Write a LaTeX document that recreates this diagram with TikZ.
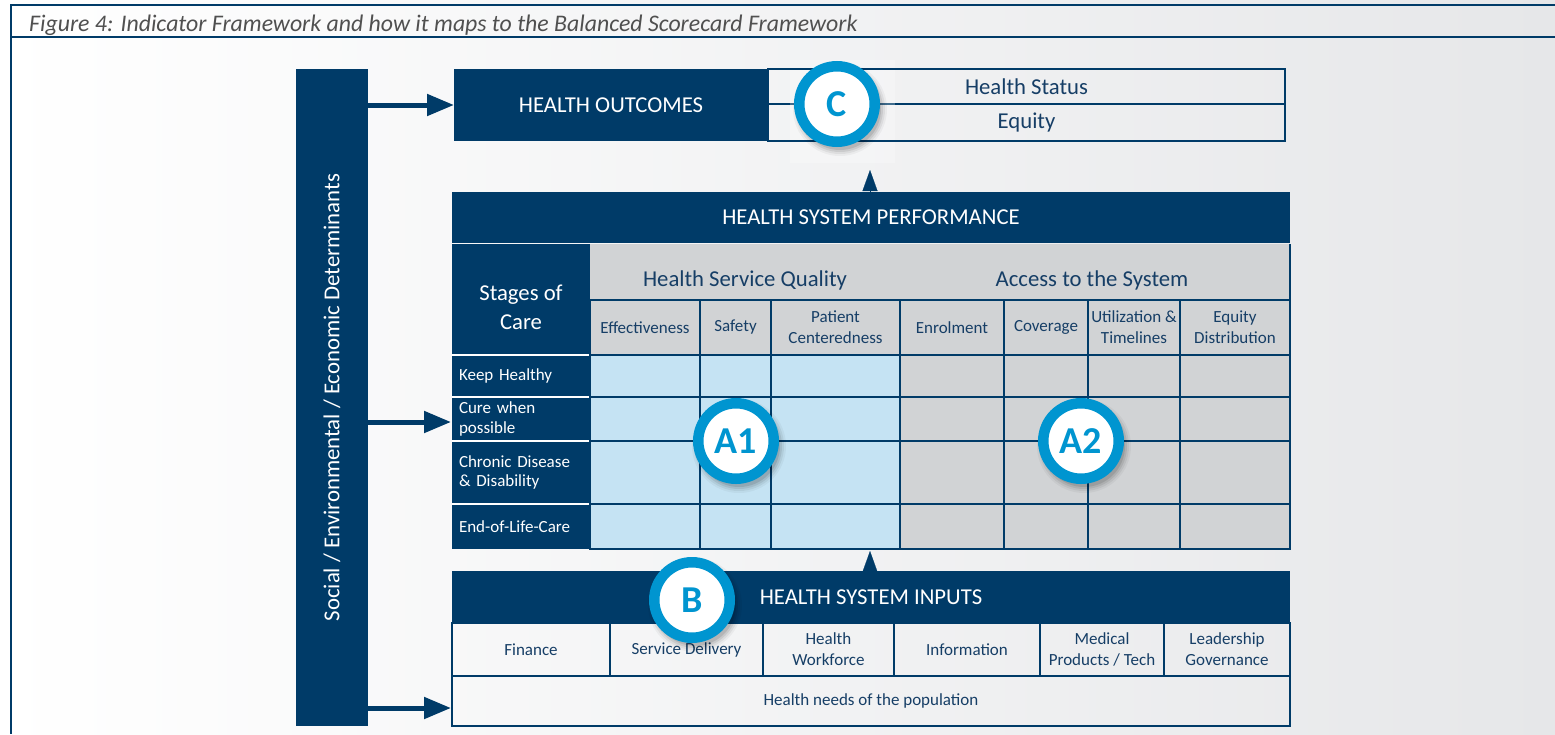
\documentclass[tikz,border=0pt]{standalone}
\usepackage{fontspec}
\setmainfont{Carlito}
\usetikzlibrary{arrows.meta,calc}
\definecolor{navy}{RGB}{0,59,104}
\definecolor{navytext}{RGB}{22,62,102}
\definecolor{lblue}{RGB}{197,227,243}
\definecolor{lgray}{RGB}{209,211,213}
\definecolor{cblue}{RGB}{0,149,208}
\definecolor{bgr}{RGB}{230,231,233}
\definecolor{capgray}{RGB}{80,80,80}
\newcommand\fsz[2]{\fontsize{#1}{#2}\selectfont}
% name, x1, y1, x2, y2, style, text
\newcommand\bx[7]{\node[#6, minimum width={#4pt-#2pt}, minimum height={#5pt-#3pt}] (#1) at ({(#2+#4)/2},{(#3+#5)/2}) {#7};}
\newcommand\badgeat[4]{%
  \foreach \r/\o in {47/0.04,45/0.06,43/0.08,41/0.1}{\fill[black,opacity=\o] ({#2+3},{#3+5}) circle[radius=\r pt];}
  \node[badge] (#1) at (#2,#3) {#4};}
\begin{document}
\begin{tikzpicture}[x=1pt,y=-1pt,
  plainbox/.style={rectangle, inner sep=0pt, outer sep=0pt},
  darkbox/.style={plainbox, fill=navy, text=white},
  bigtext/.style={font=\fsz{22.7}{29}},
  smalltext/.style={font=\fsz{17}{21}},
  gridcell/.style={plainbox, draw=navy, line width=1.3pt, text=navytext, align=center},
  qcell/.style={gridcell, fill=lblue},
  acell/.style={gridcell, fill=lgray},
  icell/.style={gridcell, smalltext},
  stagebox/.style={darkbox, font=\fsz{17}{19.5}, text width=124pt, inner xsep=7pt, align=left},
  bigarrow/.style={navy, line width=5pt, -{Triangle[length=27pt,width=21pt]}},
  smallhead/.style={navy, line width=0.2pt, -{Triangle[length=21pt,width=15pt]}},
  badge/.style={circle, fill=white, draw=cblue, line width=10.5pt, minimum size=75.5pt, inner sep=0pt, text=cblue, font=\fsz{38}{38}\bfseries},
]
\useasboundingbox (0,0) rectangle (1555,734);
\shade[left color=white, right color=bgr] (0,0) rectangle (1555,734);
\draw[navy, line width=1.2pt] (1555,5) -- (11,5) -- (11,734);
\draw[navy, line width=1.2pt] (11,37) -- (1555,37);
\node[anchor=base west, text=capgray, font=\fsz{23.8}{26}\itshape, inner sep=0pt] (cap) at (29,31) {Figure 4: Indicator Framework and how it maps to the Balanced Scorecard Framework};

% determinants bar
\bx{det}{296}{69}{368}{726}{darkbox}{}
\node[rotate=90, text=white, font=\fsz{22.8}{26}] (dettext) at (det.center) {Social / Environmental / Economic Determinants};

% outcomes
\bx{ho}{454}{69}{768}{141}{darkbox, bigtext}{HEALTH OUTCOMES}
\bx{hs}{768}{69}{1285}{104}{gridcell, bigtext}{Health Status}
\bx{eq}{768}{104}{1285}{141}{gridcell, bigtext}{Equity}
\fill[white, opacity=0.25] (790,60) rectangle (895,163);
\draw[navy, line width=2.6pt] (790,69) -- (895,69) (790,141) -- (895,141);

% performance
\bx{hsp}{452}{192}{1290}{243}{darkbox, bigtext}{HEALTH SYSTEM PERFORMANCE}
\bx{soc}{452}{244}{590}{355}{darkbox}{}
\node[text=white, bigtext, align=center] (soctext) at (521,307) {Stages of\\Care};
\bx{qhdr}{590}{244}{900}{300}{plainbox, fill=lgray}{}
\bx{ahdr}{900}{244}{1290}{300}{plainbox, fill=lgray}{}
\node[text=navytext, bigtext] (qtext) at (745,280) {Health Service Quality};
\node[text=navytext, bigtext] (atext) at (1092,280) {Access to the System};
\draw[navy, line width=1.3pt] (ahdr.north east) -- (ahdr.south east);

\bx{eff}{590}{300}{700}{355}{acell, smalltext}{Effectiveness}
\bx{saf}{700}{300}{771}{355}{acell, smalltext}{Safety}
\bx{pat}{771}{300}{900}{355}{acell, smalltext}{Patient\\Centeredness}
\bx{enr}{900}{300}{1004}{355}{acell, smalltext}{Enrolment}
\bx{cov}{1004}{300}{1088}{355}{acell, smalltext}{Coverage}
\bx{uti}{1088}{300}{1180}{355}{acell, smalltext}{Utilization \&\\Timelines}
\bx{eqd}{1180}{300}{1290}{355}{acell, smalltext}{Equity\\Distribution}

% stage rows
\bx{kh}{452}{355}{590}{397}{stagebox}{Keep Healthy}
\bx{cw}{452}{397}{590}{441}{stagebox}{Cure when\\possible}
\bx{cd}{452}{441}{590}{504}{stagebox}{Chronic Disease\\\& Disability}
\bx{el}{452}{504}{590}{549}{stagebox}{End-of-Life-Care}
\draw[white, line width=1.5pt] (soc.south west) -- (soc.south east)
  (kh.south west) -- (kh.south east) (cw.south west) -- (cw.south east) (cd.south west) -- (cd.south east);

\foreach \ya/\yb/\rn in {355/397/1,397/441/2,441/504/3,504/549/4}{
  \foreach \xa/\xb/\cn in {590/700/1,700/771/2,771/900/3}{
    \bx{q\rn\cn}{\xa}{\ya}{\xb}{\yb}{qcell}{}
  }
  \foreach \xa/\xb/\cn in {900/1004/1,1004/1088/2,1088/1180/3,1180/1290/4}{
    \bx{a\rn\cn}{\xa}{\ya}{\xb}{\yb}{acell}{}
  }
}
\draw[navy, line width=2.6pt] (1035,397) -- (1139,397) (1035,441) -- (1139,441);

% inputs
\bx{hsi}{452}{571}{1290}{623}{darkbox, bigtext}{HEALTH SYSTEM INPUTS}
\bx{fin}{452}{623}{610}{676}{icell}{Finance}
\bx{sd}{610}{623}{763}{676}{icell}{Service Delivery}
\bx{hw}{763}{623}{894}{676}{icell}{Health\\Workforce}
\bx{inf}{894}{623}{1040}{676}{icell}{Information}
\bx{mp}{1040}{623}{1164}{676}{icell}{Medical\\Products / Tech}
\bx{lg}{1164}{623}{1290}{676}{icell}{Leadership\\Governance}
\bx{need}{452}{676}{1290}{726}{icell}{Health needs of the population}

% arrows
\coordinate (m2) at (451,422);
\coordinate (m3) at (451,708);
\draw[bigarrow] (det.east |- ho.west) -- (ho.west);
\draw[bigarrow] (det.east |- m2) -- (m2);
\draw[bigarrow] (det.east |- m3) -- (m3);
\coordinate (t1) at (870,170);
\coordinate (t2) at (870,551);
\draw[smallhead] (t1 |- hsp.north) -- (t1);
\draw[smallhead] (t2 |- hsi.north) -- (t2);

% badges
\badgeat{bc}{837}{104}{C}
\badgeat{ba1}{736}{441}{A1}
\badgeat{ba2}{1081}{441}{A2}
\badgeat{bb}{692}{600}{B}
\end{tikzpicture}
\end{document}
